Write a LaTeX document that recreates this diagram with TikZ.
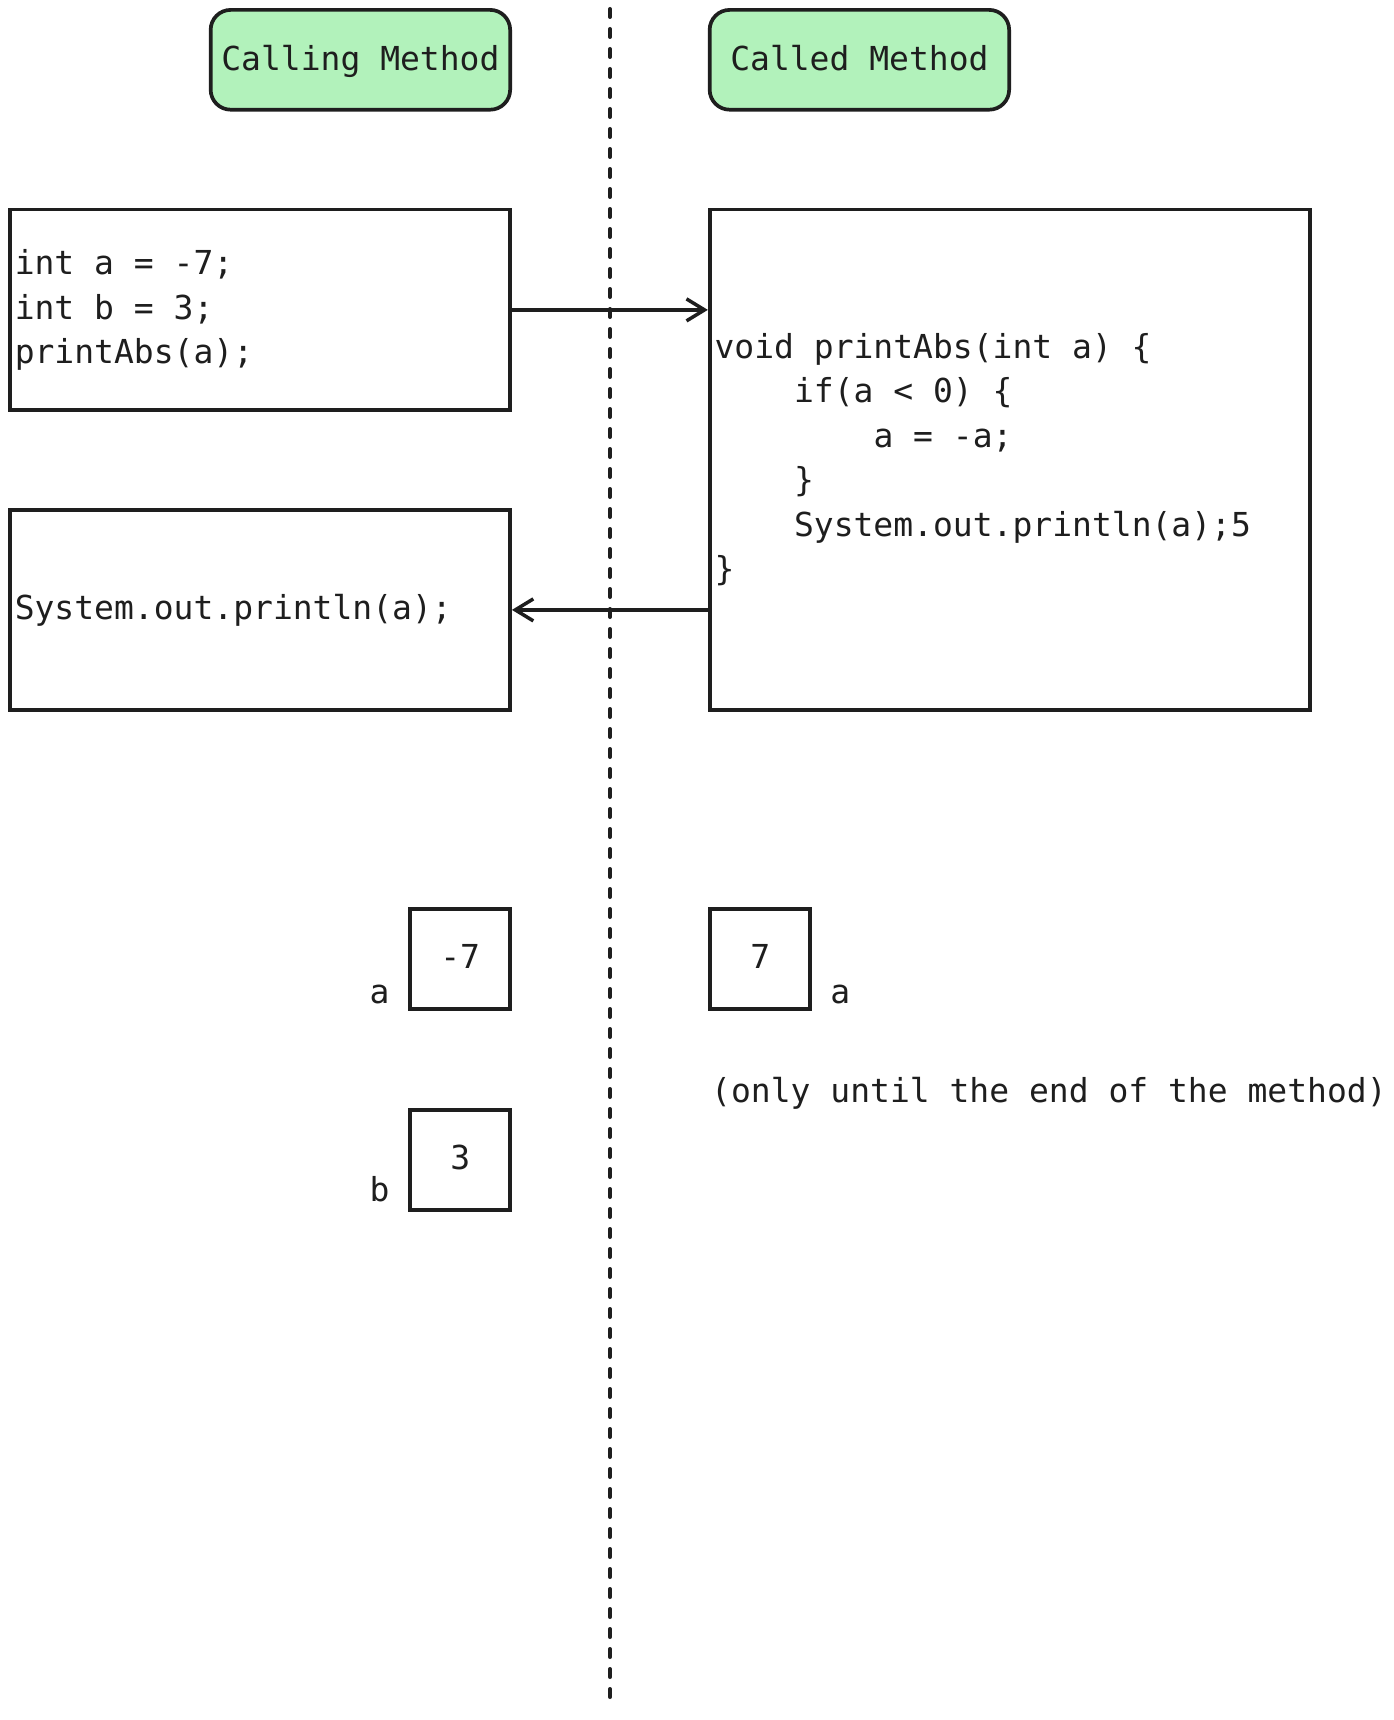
\documentclass[tikz,border=0pt]{standalone}
\usepackage{fontspec}
\newfontfamily\codefont{DejaVu Sans Mono}
\usetikzlibrary{arrows.meta}
\definecolor{ink}{HTML}{1E1E1E}
\definecolor{mint}{HTML}{B2F2BB}
% four-character indentation step for the code listing
\newcommand\indentstep{\phantom{0000}}
\begin{document}
\begin{tikzpicture}[x=1pt,y=-1pt,
  every node/.style={text=ink, font=\codefont\fontsize{33}{44.5}\selectfont},
  header/.style={draw=ink, line width=3.7pt, fill=mint, rounded corners=20pt,
    minimum width=299.5pt, minimum height=99.8pt, inner sep=0pt,
    text height=28pt, text depth=6.8pt},
  codebox/.style={draw=ink, line width=3.7pt, inner sep=0pt},
  codetext/.style={align=left, inner sep=0pt, anchor=west},
  valbox/.style={draw=ink, line width=3.7pt, minimum width=100pt, minimum height=100pt,
    inner sep=0pt, text height=24pt, text depth=6pt},
  varname/.style={inner sep=0pt, anchor=base},
  flow/.style={draw=ink, line width=3.5pt,
    -{Straight Barb[length=18pt,width=22pt,line width=3.5pt]}},
  divider/.style={draw=ink, line width=4pt, line cap=round, dash pattern=on 8pt off 12pt},
]
% canvas
\fill[white] (0,0) rectangle (1393,1720);
\useasboundingbox (0,0) rectangle (1393,1720);

% separator between the two methods
\coordinate (divtop) at (610,9);
\coordinate (divbot) at (610,1697);
\draw[divider] (divtop) -- (divbot);

% column headers
\node[header] (hcalling) at (360.4,59.8) {Calling Method};
\node[header] (hcalled)  at (859.4,59.8) {Called Method};

% caller code
\node[codebox, minimum width=500.2pt, minimum height=200.7pt] (call) at (260,309.9) {};
\node[codetext] (calltext) at ([xshift=6.5pt]call.west)
  {int a = -7;\\int b = 3;\\printAbs(a);};
\node[codebox, minimum width=500.2pt, minimum height=199.7pt] (after) at (260,609.9) {};
\node[codetext] (aftertext) at ([xshift=6.5pt]after.west) {System.out.println(a);};

% called method body
\node[codebox, minimum width=600pt, minimum height=500.2pt] (body) at (1009.7,459.6) {};
\node[codetext] (bodytext) at ([xshift=6.5pt]body.west)
  {void printAbs(int a) \{\\
   \indentstep if(a < 0) \{\\
   \indentstep\indentstep a = -a;\\
   \indentstep\}\\
   \indentstep System.out.println(a);5\\
   \}};

% call and return
\draw[flow] (call.east) -- (body.west |- call.east);
\draw[flow] (body.west |- after.east) -- (after.east);

% variable cells
\node[valbox] (cella) at (460.2,959.3) {-7};
\node[valbox] (cellb) at (460.2,1160) {3};
\node[valbox] (cellp) at (760.2,959.3) {7};

\node[varname] (na) at (379.5,1003) {a};
\node[varname] (nb) at (379.5,1201) {b};
\node[varname] (np) at (840.2,1003) {a};

\node[inner sep=0pt, anchor=base west] (scope) at (711,1102)
  {(only until the end of the method)};
\end{tikzpicture}
\end{document}
